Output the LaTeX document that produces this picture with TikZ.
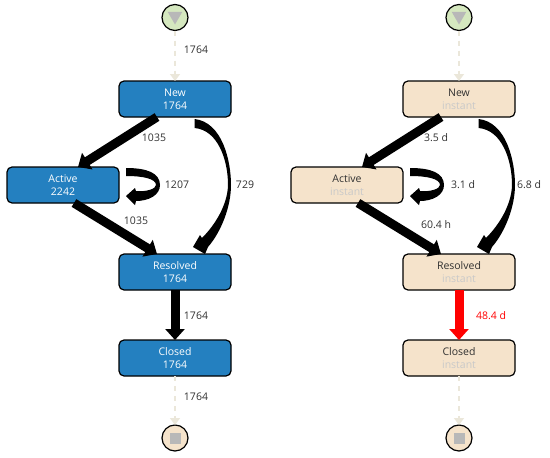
\documentclass[tikz,border=0pt]{standalone}
\usepackage{fontspec}
\setmainfont{Open Sans}
\usetikzlibrary{positioning,arrows.meta,shapes.geometric}
\definecolor{freqblue}{HTML}{2480C0}
\definecolor{perfcream}{HTML}{F5E3CB}
\definecolor{startgreen}{HTML}{D5E8BF}
\definecolor{faintedge}{HTML}{EBE7DA}
\definecolor{markgrey}{HTML}{B8B8B8}
\definecolor{instantgrey}{HTML}{C9C9C9}
\definecolor{labeldark}{HTML}{303030}

\newcommand{\bentflows}[2]{%
  % taper from #1 to the node below, and the loop on #2
  \begin{scope}[shift={(#1.south)}]
    \fill (19.5,2) .. controls (47,5) and (56,43) .. (56,68) .. controls (56,90) and (46,115) .. (33,130)
      -- (30,137) -- (18,130) -- (25,118) -- (27,121) .. controls (40,108) and (52.5,88) .. (53,68)
      .. controls (53,43) and (43,13) .. (19.5,11) -- cycle;
  \end{scope}
  \begin{scope}[shift={(#2.east)}]
    \fill (7,-17) .. controls (28,-17) and (41,-12) .. (41,0) .. controls (41,10) and (30,16) .. (17,16)
      -- (16,20) -- (7,11) -- (16,3) -- (17,6) .. controls (27,7) and (37,4) .. (37,0)
      .. controls (37,-6) and (25,-9) .. (7,-9) -- cycle;
  \end{scope}
}

\begin{document}
\begin{tikzpicture}[
x=1pt,
y=-1pt,
font=\fontsize{10.5}{13}\selectfont,
node distance=50pt,
activity/.style={
rectangle,
rounded corners=5pt,
draw,
line width=1.2pt,
outer sep=0pt,
minimum width=112pt,
minimum height=36pt,
inner sep=1pt,
align=center
},
freq/.style={activity,fill=freqblue,text=white},
perf/.style={activity,fill=perfcream,text=labeldark},
endpoint/.style={
circle,
draw,
line width=1.2pt,
outer sep=0pt,
minimum size=26pt,
inner sep=0pt
},
triangmark/.style={
regular polygon,
regular polygon sides=3,
shape border rotate=180,
fill=markgrey,
minimum size=17pt,
inner sep=0pt
},
squaremark/.style={
rectangle,
fill=markgrey,
minimum size=11pt,
inner sep=0pt
},
flow/.style={
line width=9pt,
-{Triangle[length=11pt,width=19pt]}
},
faint/.style={
draw=faintedge,
line width=1.5pt,
dash pattern=on 5pt off 5pt,
-{Triangle[length=7pt,width=10pt,fill=faintedge]}
},
lbl/.style={text=labeldark,inner sep=0pt}
]
\useasboundingbox (0,0) rectangle (550,458);

% frequency side
\node[endpoint,fill=startgreen] (start) at (175,17.5) {};
\node[triangmark] (startmark) at (175,16) {};
\node[freq,below=50.5pt of start] (new) {New\\1764};
\node[freq,below left=50pt and 0pt of new] (active) {Active\\2242};
\node[freq,below=137pt of new] (resolved) {Resolved\\1764};
\node[freq,below=50pt of resolved] (closed) {Closed\\1764};
\node[endpoint,fill=perfcream,below=49pt of closed] (stop) {};
\node[squaremark] (stopmark) at (stop) {};

% performance side
\node[endpoint,fill=startgreen] (startR) at (459,17.5) {};
\node[triangmark] (startmarkR) at (459,16) {};
\node[perf,below=50.5pt of startR] (newR) {New\\\textcolor{instantgrey}{instant}};
\node[perf,below left=50pt and 0pt of newR] (activeR) {Active\\\textcolor{instantgrey}{instant}};
\node[perf,below=137pt of newR] (resolvedR) {Resolved\\\textcolor{instantgrey}{instant}};
\node[perf,below=50pt of resolvedR] (closedR) {Closed\\\textcolor{instantgrey}{instant}};
\node[endpoint,fill=perfcream,below=49pt of closedR] (stopR) {};
\node[squaremark] (stopmarkR) at (stopR) {};

\draw[faint] (start) -- (new);
\draw[faint] (closed) -- (stop);
\draw[faint] (startR) -- (newR);
\draw[faint] (closedR) -- (stopR);

\path[draw]
([xshift=-18pt]new.south) edge[flow] ([xshift=15pt]active.north)
([xshift=11pt]active.south) edge[flow] ([xshift=-18pt]resolved.north)
(resolved) edge[flow] (closed);
\path[draw]
([xshift=-18pt]newR.south) edge[flow] ([xshift=15pt]activeR.north)
([xshift=11pt]activeR.south) edge[flow] ([xshift=-18pt]resolvedR.north)
(resolvedR) edge[flow,red] (closedR);

\bentflows{new}{active}
\bentflows{newR}{activeR}

\node[lbl] (l1) at (196,50) {1764};
\node[lbl] (l2) at (154,138) {1035};
\node[lbl] (l3) at (177,185) {1207};
\node[lbl] (l4) at (245,185) {729};
\node[lbl] (l5) at (136,221) {1035};
\node[lbl] (l6) at (196,316) {1764};
\node[lbl] (l7) at (196,397) {1764};

\node[lbl] (r2) at (436,138) {3.5 d};
\node[lbl] (r3) at (463,185) {3.1 d};
\node[lbl] (r4) at (529,185) {6.8 d};
\node[lbl] (r5) at (436,225) {60.4 h};
\node[lbl,text=red] (r6) at (491,316) {48.4 d};

\end{tikzpicture}
\end{document}
